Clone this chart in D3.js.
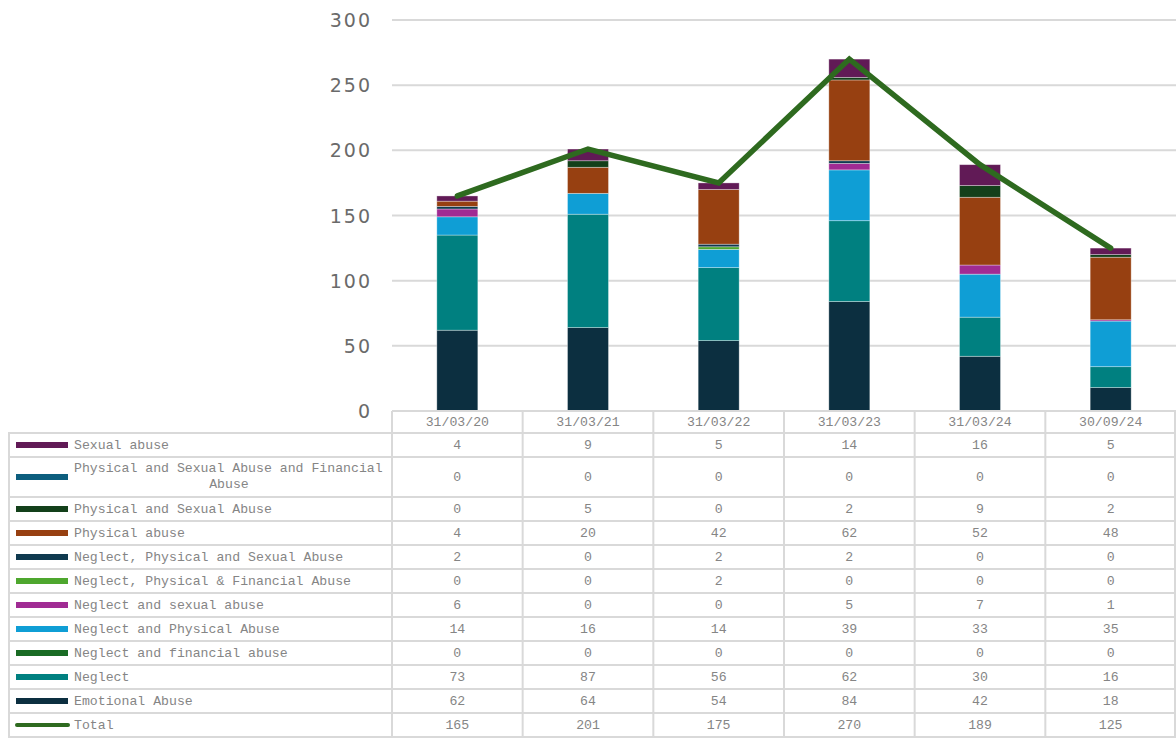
<!DOCTYPE html>
<html><head><meta charset="utf-8">
<script src="https://cdn.jsdelivr.net/npm/d3@7"></script>
<style>body{margin:0;background:#fff}svg{display:block}</style>
</head><body>
<svg id="c" width="1176" height="738"></svg>
<script>
const categories = ["31/03/20","31/03/21","31/03/22","31/03/23","31/03/24","30/09/24"];
const seriesNames = ["Sexual abuse","Physical and Sexual Abuse and Financial Abuse","Physical and Sexual Abuse","Physical abuse","Neglect, Physical and Sexual Abuse","Neglect, Physical & Financial Abuse","Neglect and sexual abuse","Neglect and Physical Abuse","Neglect and financial abuse","Neglect","Emotional Abuse"];
const sexualAbuse = [4,9,5,14,16,5];
const physSexFin = [0,0,0,0,0,0];
const physSex = [0,5,0,2,9,2];
const physical = [4,20,42,62,52,48];
const neglPhysSex = [2,0,2,2,0,0];
const neglPhysFin = [0,0,2,0,0,0];
const neglSexual = [6,0,0,5,7,1];
const neglPhysical = [14,16,14,39,33,35];
const neglFinancial = [0,0,0,0,0,0];
const neglect = [73,87,56,62,30,16];
const emotional = [62,64,54,84,42,18];
const total = [165,201,175,270,189,125];
const yTicks = [0,50,100,150,200,250,300];
const colors = ["#611a56","#0d5e7e","#13401a","#974011","#0f3a4f","#4ea72e","#a02b93","#0f9ed5","#196b24","#008080","#0c2f40"];
const totalColor = "#2e6a1f";

const seriesValues = [sexualAbuse,physSexFin,physSex,physical,neglPhysSex,neglPhysFin,neglSexual,neglPhysical,neglFinancial,neglect,emotional];

(function(){
const svg = d3.select("#c");
const pLeft = 392, pRight = 1176, pTop = 20, pBottom = 411;
const x = d3.scaleBand().domain(categories).range([pLeft, pRight]).paddingInner(0).paddingOuter(0);
const y = d3.scaleLinear().domain([0,300]).range([pBottom, pTop]);

svg.append("g").selectAll("line").data(yTicks).join("line")
  .attr("x1", pLeft).attr("x2", pRight).attr("y1", d=>y(d)).attr("y2", d=>y(d))
  .attr("stroke", "#d9d9d9").attr("stroke-width", 2);
svg.append("g").selectAll("text").data(yTicks).join("text")
  .attr("x", 372).attr("y", d=>y(d)+7).attr("text-anchor","end")
  .attr("font-family","DejaVu Sans").attr("font-size",19).attr("letter-spacing",2)
  .attr("fill","#6a6a6a").text(d=>d);

const stackOrder = seriesValues.map((v,i)=>i).reverse();
const rows = categories.map((c,j)=>{ const o={cat:c}; seriesNames.forEach((n,i)=>o[n]=seriesValues[i][j]); return o; });
const stack = d3.stack().keys(stackOrder.map(i=>seriesNames[i]))(rows);
const barW = 41;
const gBars = svg.append("g");
stack.forEach(layer=>{
  const idx = seriesNames.indexOf(layer.key);
  gBars.selectAll(null).data(layer.filter(d=>d[1]-d[0]>0)).join("rect")
    .attr("x", d=>x(d.data.cat)+x.bandwidth()/2-barW/2)
    .attr("width", barW)
    .attr("y", d=>y(d[1])).attr("height", d=>y(d[0])-y(d[1]))
    .attr("fill", colors[idx]).attr("stroke","#ffffff").attr("stroke-opacity",0.45).attr("stroke-width",0.75);
});

const line = d3.line().x((d,i)=>x(categories[i])+x.bandwidth()/2).y(d=>y(d));
svg.append("path").datum(total).attr("d", line).attr("fill","none")
  .attr("stroke", totalColor).attr("stroke-width",5.5).attr("stroke-linecap","round").attr("stroke-linejoin","miter");

const rowBounds = [433,457,497,521,545,569,593,617,641,665,689,713,737];
const tableLeft = 8;
const gT = svg.append("g");
const border = "#d9d9d9";
const fontT = "Liberation Mono";
const fs = 13.2;
const tc = "#858585";
gT.append("line").attr("x1",pLeft).attr("x2",pRight).attr("y1",pBottom).attr("y2",pBottom).attr("stroke",border).attr("stroke-width",2);
categories.forEach(c=>{
  gT.append("text").attr("x", x(c)+x.bandwidth()/2).attr("y", 426).attr("text-anchor","middle")
    .attr("font-family",fontT).attr("font-size",fs).attr("fill",tc).text(c);
});
rowBounds.forEach(b=>{
  gT.append("line").attr("x1",tableLeft).attr("x2",pRight).attr("y1",b).attr("y2",b).attr("stroke",border).attr("stroke-width",2);
});
gT.append("line").attr("x1",tableLeft+1).attr("x2",tableLeft+1).attr("y1",433).attr("y2",737).attr("stroke",border).attr("stroke-width",2);
categories.forEach(c=>{
  gT.append("line").attr("x1",x(c)).attr("x2",x(c)).attr("y1",pBottom).attr("y2",737).attr("stroke",border).attr("stroke-width",2);
});
gT.append("line").attr("x1",pRight-1).attr("x2",pRight-1).attr("y1",pBottom).attr("y2",737).attr("stroke",border).attr("stroke-width",2);

const allNames = seriesNames.concat(["Total"]);
const allVals = seriesValues.concat([total]);
allNames.forEach((n,i)=>{
  const y0 = rowBounds[i], y1 = rowBounds[i+1], ym = (y0+y1)/2;
  if (i === allNames.length-1) {
    gT.append("line").attr("x1",17).attr("x2",68).attr("y1",ym).attr("y2",ym)
      .attr("stroke",totalColor).attr("stroke-width",4).attr("stroke-linecap","round");
  } else {
    gT.append("rect").attr("x",16).attr("y",ym-3).attr("width",52).attr("height",6).attr("fill",colors[i]);
  }
  const t = gT.append("text").attr("font-family",fontT).attr("font-size",fs).attr("fill",tc);
  if (n === "Physical and Sexual Abuse and Financial Abuse") {
    t.append("tspan").attr("x",74).attr("y",ym-5).text("Physical and Sexual Abuse and Financial");
    t.append("tspan").attr("x",229).attr("y",ym+11).attr("text-anchor","middle").text("Abuse");
  } else {
    t.attr("x",74).attr("y",ym+4).text(n);
  }
  allVals[i].forEach((v,j)=>{
    gT.append("text").attr("x", x(categories[j])+x.bandwidth()/2).attr("y", ym+4).attr("text-anchor","middle")
      .attr("font-family",fontT).attr("font-size",fs).attr("fill",tc).text(v);
  });
});
})();
</script>
</body></html>
